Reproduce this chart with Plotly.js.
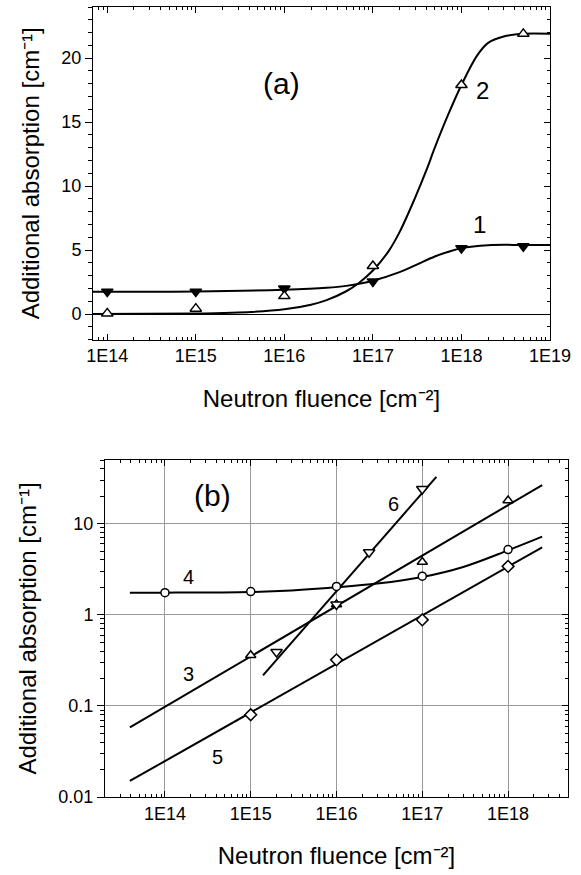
<!DOCTYPE html>
<html>
<head>
<meta charset="utf-8">
<script src="https://cdn.plot.ly/plotly-3.0.1.min.js"></script>
<style>html,body{margin:0;padding:0;background:#fff}#chart{width:581px;height:875px}</style>
</head>
<body>
<div id="chart"></div>
<script>
// ---------- Panel (a): linear y ----------
const aFluence = [1e14, 1e15, 1e16, 1e17, 1e18, 5e18];
const aPoints1 = [1.75, 1.75, 2.0, 2.55, 5.15, 5.3];   // filled down-triangles
const aPoints2 = [0.05, 0.42, 1.4, 3.75, 17.9, 21.9];  // open up-triangles
const aCurve1X = [6.9e13, 1e15, 1e16, 3e16, 5e16, 1e17, 2e17, 3e17, 5e17, 7e17, 1e18, 2e18, 5e18, 1e19];
const aCurve1Y = [1.75, 1.76, 1.9, 2.05, 2.2, 2.6, 3.27, 3.8, 4.5, 4.85, 5.15, 5.38, 5.4, 5.4];
const aCurve2X = [6.9e13, 1e15, 3e15, 1e16, 2e16, 3e16, 5e16, 7e16, 1e17, 1.5e17, 2e17, 3e17, 4e17, 5e17, 7e17, 1e18, 1.5e18, 2e18, 3e18, 5e18, 1e19];
const aCurve2Y = [0.0, 0.04, 0.11, 0.37, 0.73, 1.09, 1.78, 2.45, 3.4, 4.9, 6.4, 9.1, 11.2, 13.0, 15.5, 17.9, 20.2, 21.2, 21.7, 21.9, 21.9];
const aXTickVals = [1e14, 1e15, 1e16, 1e17, 1e18, 1e19];
const aXTickText = ["1E14", "1E15", "1E16", "1E17", "1E18", "1E19"];
const aYTickVals = [0, 5, 10, 15, 20];

// ---------- Panel (b): log y ----------
const bCurve3X = [3.9e13, 2.5e18];
const bCurve3Y = [0.058, 26.5];
const bCurve5X = [3.9e13, 2.5e18];
const bCurve5Y = [0.015, 5.5];
const bCurve6X = [1.39e15, 1.46e17];
const bCurve6Y = [0.216, 32.7];
const bCurve4X = [3.9e13, 1e14, 1e15, 3e15, 1e16, 3e16, 1e17, 3e17, 1e18, 2.5e18];
const bCurve4Y = [1.75, 1.75, 1.78, 1.85, 2.0, 2.2, 2.6, 3.35, 5.1, 7.2];
const bCircX = [1e14, 1e15, 1e16, 1e17, 1e18];
const bCircY = [1.75, 1.8, 2.05, 2.65, 5.2];
const bTriUpX = [1e15, 1e16, 1e17, 1e18];
const bTriUpY = [0.36, 1.3, 3.8, 18];
const bDiamX = [1e15, 1e16, 1e17, 1e18];
const bDiamY = [0.08, 0.32, 0.88, 3.4];
const bTriDnX = [2e15, 1e16, 2.4e16, 1e17];
const bTriDnY = [0.39, 1.3, 4.85, 24];
const bXTickVals = [1e14, 1e15, 1e16, 1e17, 1e18];
const bXTickText = ["1E14", "1E15", "1E16", "1E17", "1E18"];
const bYTickVals = [0.01, 0.1, 1, 10];
const bYTickText = ["0.01", "0.1", "1", "10"];

const FONT = "Liberation Sans, Arial, Helvetica, sans-serif";
const lineStyle = {color: "#000", width: 2};

function curve(x, y, xa, ya, shape) {
  return {x: x, y: y, xaxis: xa, yaxis: ya, mode: "lines", type: "scatter",
          line: Object.assign({shape: shape || "linear", smoothing: 1}, lineStyle),
          hoverinfo: "skip", showlegend: false};
}
function pts(x, y, xa, ya, symbol, size, fill) {
  return {x: x, y: y, xaxis: xa, yaxis: ya, mode: "markers", type: "scatter",
          marker: {symbol: symbol, size: size, color: fill, line: {color: "#000", width: 1.5}},
          showlegend: false};
}

const data = [
  curve(aCurve1X, aCurve1Y, "x", "y", "spline"),
  curve(aCurve2X, aCurve2Y, "x", "y", "spline"),
  pts(aFluence, aPoints1, "x", "y", "triangle-down", 10, "#000"),
  pts(aFluence, aPoints2, "x", "y", "triangle-up", 10, "#fff"),
  {x: [], y: [], xaxis: "x", yaxis: "y3", type: "scatter", mode: "markers", showlegend: false},

  curve(bCurve3X, bCurve3Y, "x2", "y2"),
  curve(bCurve5X, bCurve5Y, "x2", "y2"),
  curve(bCurve6X, bCurve6Y, "x2", "y2"),
  curve(bCurve4X, bCurve4Y, "x2", "y2", "spline"),
  pts(bCircX, bCircY, "x2", "y2", "circle", 8, "#fff"),
  pts(bTriUpX, bTriUpY, "x2", "y2", "triangle-up", 9, "#fff"),
  pts(bDiamX, bDiamY, "x2", "y2", "diamond", 9, "#fff"),
  pts(bTriDnX, bTriDnY, "x2", "y2", "triangle-down", 10, "#fff"),
  {x: [], y: [], xaxis: "x2", yaxis: "y4", type: "scatter", mode: "markers", showlegend: false}
];

const tickFont = {family: FONT, size: 18, color: "#000"};
const titleFont = {family: FONT, size: 24, color: "#000"};
const xTitle = "Neutron fluence [cm\u207B\u00B2]";
const yTitle = "Additional absorption [cm\u207B\u00B9]";

const xLogCommon = {
  type: "log", showline: true, linecolor: "#000", linewidth: 1, mirror: "ticks",
  ticks: "inside", ticklen: 6, tickcolor: "#000", tickwidth: 1,
  minor: {ticks: "inside", ticklen: 3, dtick: "D1", tickcolor: "#000", showgrid: false},
  tickfont: tickFont, zeroline: false, fixedrange: true
};

function label(text, px, py, size) {
  return {text: text, x: px / 581, y: 1 - py / 875, xref: "paper", yref: "paper",
          xanchor: "center", yanchor: "middle", showarrow: false,
          font: {family: FONT, size: size, color: "#000"}};
}

const layout = {
  width: 581, height: 875,
  margin: {l: 0, r: 0, t: 0, b: 0},
  paper_bgcolor: "#fff", plot_bgcolor: "rgba(0,0,0,0)",
  font: {family: FONT, color: "#000"},
  showlegend: false,
  xaxis: Object.assign({}, xLogCommon, {
    domain: [93 / 581, 550 / 581], anchor: "y",
    range: [13.839, 19], tickvals: aXTickVals, ticktext: aXTickText, showgrid: false,
    title: {text: xTitle, font: titleFont, standoff: 24}
  }),
  yaxis: {
    domain: [1 - 339.6 / 875, 1 - 7 / 875], anchor: "x",
    range: [-2, 24], tickvals: aYTickVals, showline: true, linecolor: "#000", linewidth: 1,
    mirror: true, ticks: "outside", ticklen: 7, tickcolor: "#000",
    minor: {ticks: "outside", ticklen: 4, dtick: 1, tickcolor: "#000", showgrid: false},
    tickfont: tickFont, showgrid: false,
    zeroline: true, zerolinecolor: "#000", zerolinewidth: 1,
    title: {text: yTitle, font: titleFont, standoff: 14}, fixedrange: true
  },
  yaxis3: {
    overlaying: "y", side: "right", anchor: "x", range: [-2, 24],
    tickvals: aYTickVals, showticklabels: false, showline: false, showgrid: false, zeroline: false,
    ticks: "inside", ticklen: 6, tickcolor: "#000",
    minor: {ticks: "inside", ticklen: 3, dtick: 1, tickcolor: "#000", showgrid: false},
    fixedrange: true
  },
  xaxis2: Object.assign({}, xLogCommon, {
    domain: [105 / 581, 568 / 581], anchor: "y2",
    range: [Math.log10(2e13), Math.log10(5e18)], tickvals: bXTickVals, ticktext: bXTickText,
    showgrid: true, gridcolor: "#9a9a9a", gridwidth: 1,
    title: {text: xTitle, font: titleFont, standoff: 24}
  }),
  yaxis2: {
    type: "log", domain: [1 - 797 / 875, 1 - 460 / 875], anchor: "x2",
    range: [-2, Math.log10(50)], tickvals: bYTickVals, ticktext: bYTickText,
    showline: true, linecolor: "#000", linewidth: 1, mirror: true,
    ticks: "outside", ticklen: 7, tickcolor: "#000",
    minor: {ticks: "outside", ticklen: 4, dtick: "D1", tickcolor: "#000", showgrid: false},
    tickfont: tickFont, showgrid: true, gridcolor: "#9a9a9a", gridwidth: 1, zeroline: false,
    title: {text: yTitle, font: titleFont, standoff: 14}, fixedrange: true
  },
  yaxis4: {
    type: "log", overlaying: "y2", side: "right", anchor: "x2",
    range: [-2, Math.log10(50)], tickvals: bYTickVals, showticklabels: false,
    showline: false, showgrid: false, zeroline: false,
    ticks: "inside", ticklen: 6, tickcolor: "#000",
    minor: {ticks: "inside", ticklen: 3, dtick: "D1", tickcolor: "#000", showgrid: false},
    fixedrange: true
  },
  annotations: [
    label("(a)", 281, 83, 30),
    label("1", 479, 224, 24),
    label("2", 482, 91, 24),
    label("(b)", 213, 495, 30),
    label("4", 188, 577, 20),
    label("3", 188, 674, 20),
    label("5", 217, 757, 20),
    label("6", 393, 504, 20)
  ]
};

Plotly.newPlot("chart", data, layout, {displayModeBar: false});
</script>
</body>
</html>
